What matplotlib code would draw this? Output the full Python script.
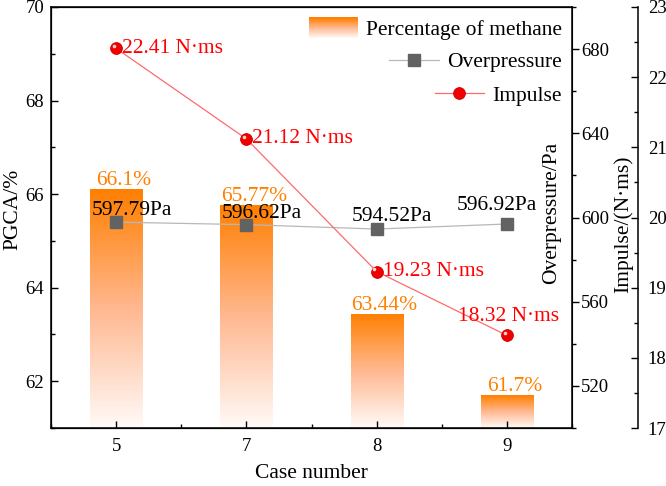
import numpy as np
import matplotlib
matplotlib.use('Agg')
import matplotlib.pyplot as plt
from matplotlib.colors import LinearSegmentedColormap
from matplotlib.legend_handler import HandlerBase
from matplotlib.patches import Rectangle
from matplotlib.ticker import MultipleLocator
from matplotlib.transforms import ScaledTranslation

plt.rcParams['font.family'] = ['Liberation Serif', 'DejaVu Serif']

# data
cases = ['5', '7', '8', '9']
methane_pct = [66.1, 65.77, 63.44, 61.7]
overpressure = [597.79, 596.62, 594.52, 596.92]
impulse = [22.41, 21.12, 19.23, 18.32]

pct_ymin = 61
orange = '#FF7F00'
grad = LinearSegmentedColormap.from_list('grad', ['#FFFAF8', '#FFB890', orange])

fig = plt.figure(figsize=(6.66, 4.86), dpi=100)
ax = fig.add_axes([0.0766, 0.1193, 0.7823, 0.8663])
x = np.arange(len(cases))

# gradient bars
bars = ax.bar(x, np.array(methane_pct) - pct_ymin, bottom=pct_ymin, width=0.4,
              color='none', edgecolor='none', zorder=1)
g = np.linspace(0, 1, 256).reshape(-1, 1)
for b in bars:
    x0, y0 = b.get_x(), b.get_y()
    im = ax.imshow(g, cmap=grad, origin='lower', aspect='auto', zorder=1,
                   extent=[x0, x0 + b.get_width(), y0, y0 + b.get_height()])
    im.set_clip_path(b)
for i, v in enumerate(methane_pct):
    ax.annotate(f'{v:g}%', (x[i], v), xytext=(8, 4), textcoords='offset pixels',
                ha='center', va='baseline', color='#FF8000', fontsize=15.5)

ax.set_xlim(-0.5, 3.5)
ax.set_ylim(pct_ymin, 70)
ax.set_xticks(x)
ax.set_xticklabels(cases)
ax.xaxis.set_minor_locator(MultipleLocator(0.5))
ax.yaxis.set_major_locator(MultipleLocator(2))
ax.yaxis.set_minor_locator(MultipleLocator(1))
ax.tick_params(which='both', direction='in', labelsize=13.5, width=1)
ax.tick_params(which='major', length=5.3)
ax.tick_params(which='minor', length=3)
ax.tick_params(axis='x', pad=7)
ax.tick_params(axis='y', pad=5)
ax.set_xlabel('Case number', fontsize=15.5)
ax.xaxis.set_label_coords(0.5, -0.085)
ax.set_ylabel('PGCA/%', fontsize=15.5)
ax.yaxis.set_label_coords(-0.055, 0.52)
for s in ax.spines.values():
    s.set_linewidth(1.1)

# overpressure axis
ax2 = ax.twinx()
l_op, = ax2.plot(x, overpressure, color='#B8B8B8', lw=0.9, marker='s', ms=8,
                 mfc='#626262', mec='#626262', zorder=3)
ax2.set_ylim(500, 700)
ax2.yaxis.set_major_locator(MultipleLocator(40))
ax2.yaxis.set_minor_locator(MultipleLocator(20))
ax2.tick_params(which='both', direction='out', labelsize=13.5, pad=1.5, width=1)
ax2.tick_params(which='major', length=5)
ax2.tick_params(which='minor', length=3)
ax2.set_ylabel('Overpressure/Pa', fontsize=15.5)
ax2.yaxis.set_label_coords(0.942, 0.51)
op_offsets = [(-24, 7), (-25, 7), (-25, 8), (-50, 14)]
for i, v in enumerate(overpressure):
    ax2.annotate(f'{v:.2f}Pa', (x[i], v), xytext=op_offsets[i], textcoords='offset pixels',
                 ha='left', va='baseline', color='black', fontsize=15.5)

# impulse axis
ax3 = ax.twinx()
ax3.spines['right'].set_position(('outward', 47.5))
ax3.spines['right'].set_linewidth(1.1)
l_imp, = ax3.plot(x, impulse, color='#FF6A6A', lw=0.9, marker='o', ms=8.5,
                  mfc='#F00000', mec='#D00000', mew=0.6, zorder=4)
hl = ScaledTranslation(-1.6 / 72, 1.6 / 72, fig.dpi_scale_trans)
ax3.plot(x, impulse, ls='none', marker='o', ms=2.6, mfc='#FFD0D0', mec='none',
         transform=ax3.transData + hl, zorder=5)
ax3.set_ylim(17, 23)
ax3.yaxis.set_major_locator(MultipleLocator(1))
ax3.yaxis.set_minor_locator(MultipleLocator(0.5))
ax3.tick_params(which='both', direction='in', labelsize=13.5, pad=7, width=1)
ax3.tick_params(which='major', length=5)
ax3.tick_params(which='minor', length=3)
ax3.set_ylabel('Impulse/(N·ms)', fontsize=15.5)
ax3.yaxis.set_label_coords(1.079, 0.485)
imp_offsets = [(6, 0, 'left', 'center'), (6, 0, 'left', 'center'),
               (6, 0, 'left', 'center'), (2, 14, 'center', 'baseline')]
for i, v in enumerate(impulse):
    dx, dy, ha, va = imp_offsets[i]
    ax3.annotate(f'{v:.2f} N·ms', (x[i], v), xytext=(dx, dy), textcoords='offset pixels',
                 ha=ha, va=va, color='#FF0000', fontsize=15.5, zorder=6)


class HandlerGradient(HandlerBase):
    def create_artists(self, legend, orig_handle, xdescent, ydescent, width, height,
                       fontsize, trans):
        n = 40
        arts = []
        for k in range(n):
            r = Rectangle((-xdescent, -ydescent + height * k / n), width, height / n + 0.2,
                          facecolor=grad(k / (n - 1)), edgecolor='none', transform=trans)
            arts.append(r)
        return arts


bar_handle = Rectangle((0, 0), 1, 1)
leg_kw = dict(frameon=False, fontsize=15.5, borderpad=0, borderaxespad=0,
              loc='center right', handletextpad=0.4)
leg1 = ax3.legend([bar_handle], ['Percentage of methane'], bbox_to_anchor=(0.981, 0.948),
                  handler_map={Rectangle: HandlerGradient()}, handlelength=2.25,
                  handleheight=1.1, **leg_kw)
ax3.add_artist(leg1)
leg2 = ax3.legend([l_op], ['Overpressure'], bbox_to_anchor=(0.981, 0.869),
                  handlelength=2.3, **leg_kw)
ax3.add_artist(leg2)
ax3.legend([l_imp], ['Impulse'], bbox_to_anchor=(0.981, 0.789),
           handlelength=2.3, **leg_kw)

fig.savefig('out.png', dpi=100)
